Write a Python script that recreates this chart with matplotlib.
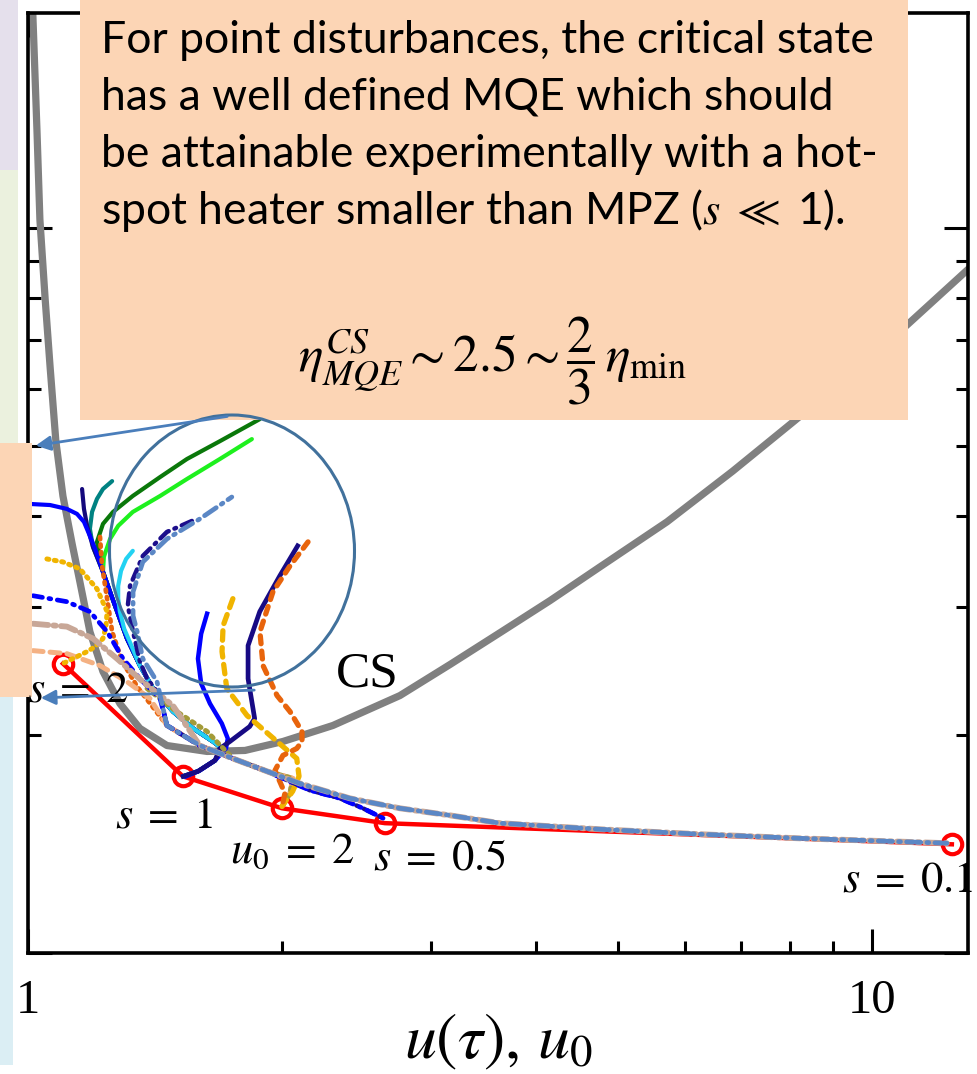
import numpy as np
import matplotlib.pyplot as plt
from matplotlib.patches import Rectangle, Ellipse, FancyArrowPatch

plt.rcParams['mathtext.fontset'] = 'stix'

W, H, DPI = 978, 1074, 100

# critical-state (CS) curve
cs_u = [1.012, 1.025, 1.033, 1.048, 1.062, 1.079, 1.100, 1.128, 1.152, 1.184, 1.227,
        1.285, 1.357, 1.461, 1.630, 1.808, 2.005, 2.298, 2.759, 3.162, 3.625, 4.155,
        4.762, 5.717, 6.843, 8.062, 9.417, 11.03, 13.2]
cs_eta = [20.5, 13.51, 10.26, 7.96, 6.44, 5.076, 4.266, 3.664, 3.25, 2.773, 2.443,
          2.207, 2.040, 1.932, 1.896, 1.902, 1.957, 2.059, 2.264, 2.498, 2.764, 3.060,
          3.406, 3.929, 4.617, 5.393, 6.257, 7.356, 8.90]

# MQE points for different heater sizes
red_u = [1.100, 1.526, 2.0, 2.649, 12.44]
red_eta = [2.506, 1.752, 1.583, 1.510, 1.412]

# common asymptote the dash-dot trajectories settle on
tail_u = [1.461, 1.598, 1.749, 1.920, 2.099, 2.406, 2.759, 3.162, 3.625, 4.762, 6.254, 8.217, 12.27]
tail_eta = [2.059, 1.932, 1.854, 1.780, 1.713, 1.634, 1.583, 1.548, 1.510, 1.481, 1.458, 1.439, 1.417]

# path of the solid trajectories down to the s = 1 point
funnel_u = [1.227, 1.268, 1.310, 1.357, 1.407, 1.485, 1.569, 1.656, 1.698, 1.666, 1.590, 1.527]
funnel_eta = [3.353, 3.011, 2.713, 2.490, 2.315, 2.152, 2.040, 1.957, 1.914, 1.843, 1.780, 1.752]

# hook into the u0 = 2 point
hook_u = [2.059, 2.044, 2.000]
hook_eta = [1.741, 1.660, 1.593]

green_u = [1.882, 1.688, 1.543, 1.434, 1.331, 1.261, 1.227, 1.207]
green_eta = [5.444, 5.076, 4.797, 4.530, 4.266, 4.055, 3.904, 3.687]
lime_u = [1.842, 1.688, 1.543, 1.434, 1.331, 1.279, 1.251, 1.230]
lime_eta = [5.110, 4.797, 4.502, 4.266, 4.055, 3.880, 3.722, 3.516]
teal_u = [1.258, 1.227, 1.207, 1.191, 1.184, 1.194]
teal_eta = [4.472, 4.361, 4.226, 4.055, 3.843, 3.629]
navy_u = [1.159, 1.165, 1.175, 1.194]
navy_eta = [4.361, 4.094, 3.880, 3.629]
blue_u = [1.006, 1.062, 1.112, 1.143, 1.165, 1.181, 1.201]
blue_eta = [4.159, 4.145, 4.094, 4.030, 3.929, 3.783, 3.608]
cyan_u = [1.331, 1.307, 1.289, 1.279, 1.279, 1.285, 1.300]
cyan_eta = [3.584, 3.493, 3.364, 3.207, 3.079, 2.955, 2.799]

blue2_u = [1.630, 1.604, 1.590, 1.604, 1.643, 1.697, 1.725, 1.716, 1.666, 1.598, 1.539]
blue2_eta = [2.936, 2.755, 2.545, 2.352, 2.207, 2.072, 1.975, 1.914, 1.843, 1.785, 1.752]
navy2_u = [2.087, 1.988, 1.882, 1.823, 1.823, 1.856, 1.831, 1.735, 1.688, 1.666, 1.590, 1.527]
navy2_eta = [3.641, 3.311, 2.955, 2.653, 2.389, 2.105, 2.052, 1.957, 1.914, 1.843, 1.780, 1.752]
gold2_u = [1.749, 1.703, 1.698, 1.720, 1.818, 1.973, 2.082, 2.095, 2.059, 2.000]
gold2_eta = [3.079, 2.826, 2.603, 2.315, 2.125, 1.957, 1.854, 1.752, 1.671, 1.593]
orange2_u = [2.147, 2.044, 1.951, 1.883, 1.899, 1.973, 2.044, 2.112, 2.112, 2.082, 2.005, 1.962, 2.016, 2.000]
orange2_eta = [3.687, 3.417, 3.147, 2.773, 2.490, 2.264, 2.152, 2.020, 1.957, 1.914, 1.872, 1.785, 1.660, 1.593]

ndd_u = [1.564, 1.461, 1.368, 1.321, 1.313, 1.332, 1.357, 1.384, 1.434]
ndd_eta = [3.941, 3.806, 3.527, 3.207, 3.011, 2.773, 2.522, 2.389, 2.264]
steel_u = [1.744, 1.598, 1.461, 1.368, 1.332, 1.332, 1.347, 1.368, 1.422]
steel_eta = [4.252, 3.966, 3.722, 3.460, 3.147, 2.917, 2.773, 2.545, 2.366]
odot_u = [1.217, 1.224, 1.241, 1.258, 1.292, 1.347]
odot_eta = [3.746, 3.417, 3.079, 2.773, 2.529, 2.329]
gdot_u = [1.053, 1.100, 1.152, 1.207, 1.241, 1.237, 1.227, 1.201, 1.175, 1.137, 1.100]
gdot_eta = [3.493, 3.460, 3.385, 3.177, 2.955, 2.818, 2.713, 2.644, 2.603, 2.554, 2.506]
bdd_u = [1.014, 1.112, 1.184, 1.241, 1.296, 1.357, 1.434]
bdd_eta = [3.108, 3.050, 2.955, 2.773, 2.545, 2.389, 2.243]
bdd_end_u = [2.158, 2.342, 2.494, 2.635]
bdd_end_eta = [1.676, 1.634, 1.583, 1.534]
tan_u = [1.014, 1.112, 1.194, 1.275, 1.368, 1.485]
tan_eta = [2.844, 2.818, 2.713, 2.545, 2.366, 2.193]
lor_u = [1.014, 1.112, 1.217, 1.310, 1.395]
lor_eta = [2.611, 2.586, 2.490, 2.366, 2.243]
olive_u = [1.384, 1.494, 1.630]
olive_eta = [2.315, 2.159, 2.020]

box_lines = ["For point disturbances, the critical state",
             "has a well defined MQE which should",
             "be attainable experimentally with a hot-",
             r"spot heater smaller than MPZ ($s$ $\ll$ 1)."]


def cat(*parts):
    return np.concatenate([np.asarray(p, float) for p in parts])


def fx(x):
    return x / W


def fy(y):
    return 1 - y / H


def rect(x0, y0, x1, y1, color, z):
    fig.add_artist(Rectangle((x0 / DPI, (H - y1) / DPI), (x1 - x0) / DPI, (y1 - y0) / DPI,
                             transform=fig.dpi_scale_trans, facecolor=color,
                             edgecolor='none', zorder=z))


fig = plt.figure(figsize=(W / DPI, H / DPI), dpi=DPI)
ax = fig.add_axes([fx(28), fy(953), 940 / W, 940 / H])
ax.set_xscale('log')
ax.set_yscale('log')
ax.set_xlim(1, 13.0)
ax.set_ylim(1.006, 19.76)

ax.plot(cs_u, cs_eta, color='#808080', lw=5.2, zorder=2, solid_joinstyle='round')
ax.plot(red_u, red_eta, color='#ff0000', lw=3.2, zorder=3)
ax.plot(red_u, red_eta, 'o', ls='none', mfc='none', mec='#ff0000', ms=14, mew=3, zorder=3)

solid = dict(lw=3.0, zorder=4, solid_capstyle='round')
ax.plot(cat(green_u, funnel_u), cat(green_eta, funnel_eta), color='#0a780a', **solid)
ax.plot(cat(lime_u, funnel_u), cat(lime_eta, funnel_eta), color='#1ef01e', **solid)
ax.plot(cat(teal_u, funnel_u), cat(teal_eta, funnel_eta), color='#008282', **solid)
ax.plot(cat(navy_u, funnel_u), cat(navy_eta, funnel_eta), color='#14087c', **solid)
ax.plot(cat(blue_u, funnel_u), cat(blue_eta, funnel_eta), color='#0000ff', **solid)
ax.plot(cat(cyan_u, funnel_u[3:]), cat(cyan_eta, funnel_eta[3:]), color='#22d2f2', **solid)
ax.plot(blue2_u, blue2_eta, color='#0000ff', lw=3.2, zorder=4)
ax.plot(navy2_u, navy2_eta, color='#170a84', lw=3.4, zorder=4)

# dashed / dotted trajectories; the ones reaching s = 0.1 are drawn last
dd = dict(zorder=4, dash_capstyle='round')
ax.plot(cat(odot_u, tail_u[:4], hook_u), cat(odot_eta, tail_eta[:4], hook_eta),
        color='#e8640c', lw=3.4, ls=(0, (0.5, 1.1)), **dd)
ax.plot(cat(lor_u, tail_u[:4], hook_u), cat(lor_eta, tail_eta[:4], hook_eta),
        color='#f4b183', lw=3.6, ls=(0, (2, 1.4)), **dd)
ax.plot(cat(olive_u, tail_u[2:4], hook_u), cat(olive_eta, tail_eta[2:4], hook_eta),
        color='#a39b38', lw=3.6, ls=(0, (0.5, 1.1)), **dd)
ax.plot(gdot_u, gdot_eta, color='#f0b400', lw=3.6, ls=(0, (0.4, 1.1)), **dd)
ax.plot(gold2_u, gold2_eta, color='#f0b400', lw=3.8, ls=(0, (1.8, 1.4)), **dd)
ax.plot(orange2_u, orange2_eta, color='#e8640c', lw=3.8, ls=(0, (1.5, 1.4)), **dd)
ax.plot(cat(ndd_u, tail_u[:4], bdd_end_u), cat(ndd_eta, tail_eta[:4], bdd_end_eta),
        color='#1c0e8c', lw=3.2, ls=(0, (2.5, 1.4, 0.4, 1.4)), **dd)
ax.plot(cat(bdd_u, tail_u[:4], bdd_end_u), cat(bdd_eta, tail_eta[:4], bdd_end_eta),
        color='#0000ff', lw=3.4, ls=(0, (2, 1.4, 0.4, 1.4)), **dd)
ax.plot(cat(tan_u, tail_u[1:]), cat(tan_eta, tail_eta[1:]), color='#c8a797', lw=4.2,
        ls=(0, (2.6, 0.9, 0.4, 0.9)), **dd)
ax.plot(cat(steel_u, tail_u), cat(steel_eta, tail_eta), color='#5b87c5', lw=3.4,
        ls=(2, (3, 1.3, 0.4, 1.3)), **dd)

ax.set_xticks([1, 10])
ax.set_xticks(range(2, 10), minor=True)
ax.set_xticklabels(['1', '10'], family='Liberation Serif', fontsize=35)
ax.set_xticklabels([], minor=True)
ax.set_yticks([1, 10])
ax.set_yticks(range(2, 10), minor=True)
ax.set_yticklabels([])
ax.set_yticklabels([], minor=True)
ax.tick_params(which='both', direction='in', width=2.2, right=True, top=True)
ax.tick_params(which='major', length=17, pad=19)
ax.tick_params(which='minor', length=9)
for sp in ax.spines.values():
    sp.set_linewidth(2.6)
ax.set_xlabel(r'$u(\tau),\,u_0$', fontsize=46, labelpad=-10)

# slide background strips on the left edge
rect(0, 0, 18, 170, '#e5e0ec', 1)
rect(0, 170, 18, 443, '#ebf1de', 1)
rect(0, 697, 13, 1065, '#dbeef4', 1)
rect(0, 443, 32, 697, '#fcd5b5', 2)

# callout box
rect(80, 0, 908, 420, '#fcd5b5', 2)
for i, line in enumerate(box_lines):
    fig.text(fx(101), fy(53 + 57 * i), line, family='Lato', fontsize=32,
             va='baseline', ha='left', zorder=3)
fig.text(fx(492), fy(372), r'$\eta_{MQE}^{CS}{\sim}2.5\sim\dfrac{2}{3}\,\eta_{\min}$',
         fontsize=37, ha='center', va='baseline', zorder=3)

# zoom circle with arrows
fig.add_artist(Ellipse((232 / DPI, (H - 551) / DPI), 2.45, 2.72, transform=fig.dpi_scale_trans,
                       facecolor='none', edgecolor='#41719c', lw=2.2, zorder=4))
for (x0, y0), (x1, y1) in [((230, 416), (33, 446)), ((257, 690), (38, 698))]:
    fig.add_artist(FancyArrowPatch((x0 / DPI, (H - y0) / DPI), (x1 / DPI, (H - y1) / DPI),
                                   transform=fig.dpi_scale_trans, arrowstyle='-|>',
                                   mutation_scale=22, color='#4a7ebb', lw=2, zorder=4))

# curve labels
fig.text(fx(367), fy(674), 'CS', family='Liberation Serif', fontsize=37,
         ha='center', va='center', zorder=3)
for x, y, s in [(27, 702, r'$s\;=\;2$'), (115, 827, r'$s\;=\;1$'), (230, 863, r'$u_0\;=\;2$'),
                (373, 870, r'$s\;=\;0.5$'), (842, 892, r'$s\;=\;0.1$')]:
    fig.text(fx(x), fy(y), s, fontsize=32, ha='left', va='baseline', zorder=3)

fig.savefig('out.png', dpi=DPI)
